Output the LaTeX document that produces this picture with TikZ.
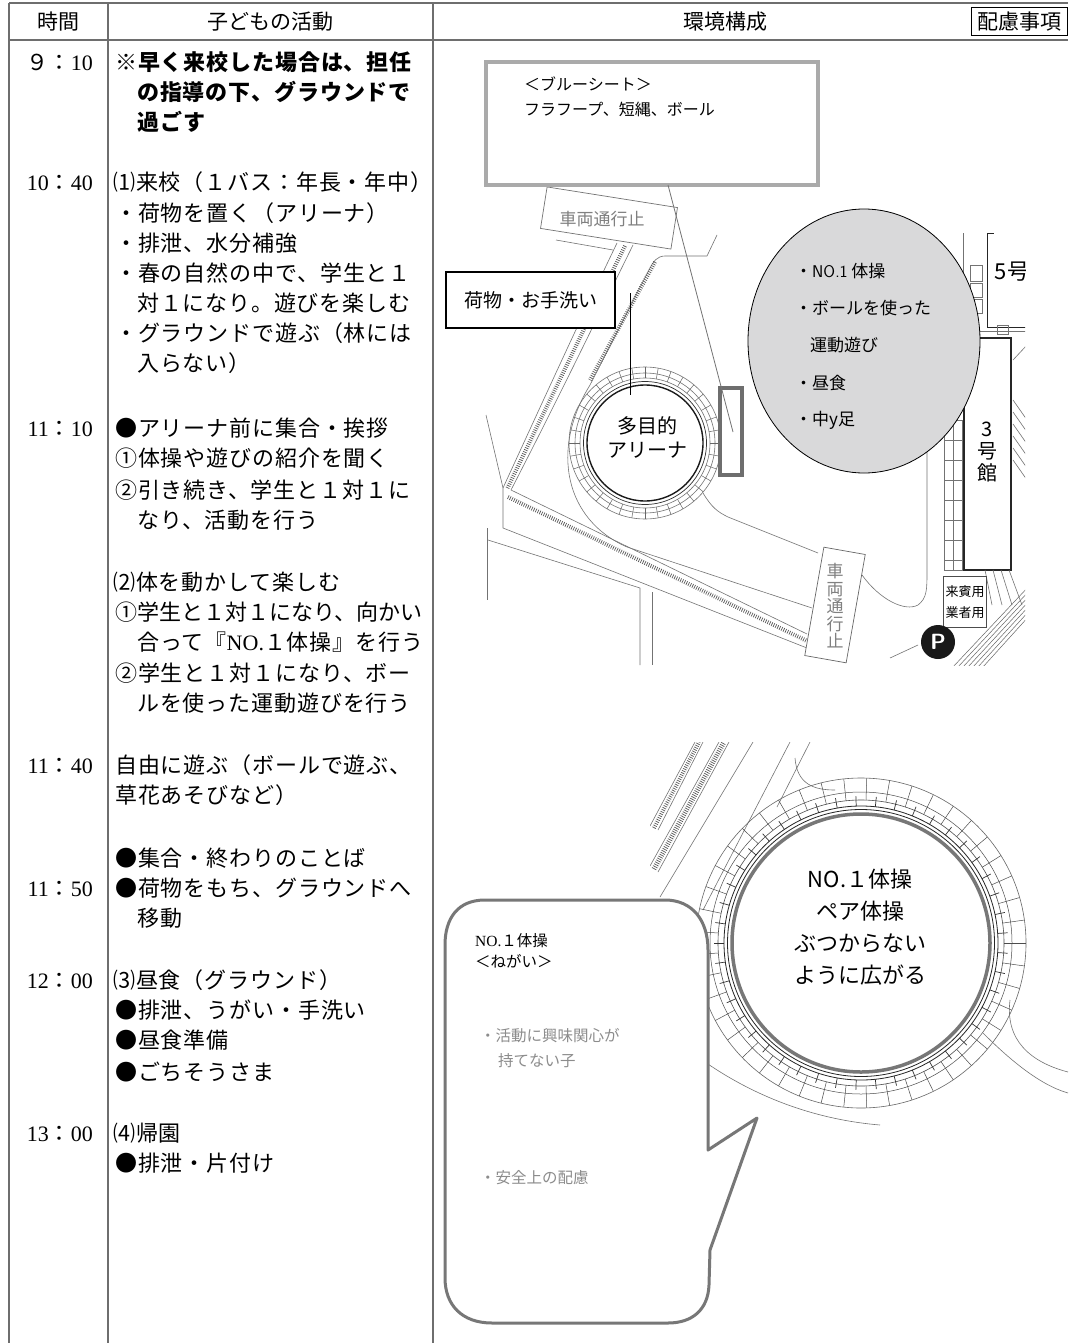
\documentclass[tikz,border=0pt]{standalone}
\usepackage{fontspec}
\setmainfont{Noto Sans CJK JP}
\newfontfamily\serifd{Liberation Serif}
\newfontfamily\jpwide[LetterSpace=4]{Noto Sans CJK JP}
\usetikzlibrary{shapes.geometric}
\definecolor{linegray}{HTML}{6E6E6E}
\definecolor{boxgray}{HTML}{AAAAAA}
\definecolor{callgray}{HTML}{777777}
\definecolor{ellgray}{HTML}{D9D9DA}
\tikzset{
 tab/.style={draw=linegray, line width=1.6pt},
 tx/.style={font=\jpwide\fontsize{22}{26}\selectfont, inner sep=0pt, anchor=base west, text=black},
 txn/.style={tx, font=\fontsize{22}{26}\selectfont},
 tm/.style={font=\fontsize{22}{26}\selectfont, inner sep=0pt, anchor=base east},
 hd/.style={font=\fontsize{21}{24}\selectfont, inner sep=0pt},
 mapl/.style={draw=black!55, line width=0.6pt},
 mapd/.style={draw=black!85, line width=0.9pt},
 hatch/.style={draw=black!65, line width=4pt, dash pattern=on 0.7pt off 1.5pt},
 mtext/.style={font=\fontsize{17}{20}\selectfont, inner sep=0pt, anchor=base west},
 ctext/.style={font=\fontsize{15.5}{18}\selectfont, inner sep=0pt, anchor=base west},
}
\newcommand\rowtext[4]{\node[tx] (#1) at (#2,#3) {#4};}
\newcommand\timetext[3]{\node[tm] (#1) at (93,#2) {#3};}
\newcommand\hm[2]{{\serifd #1}：{\serifd #2}}
\begin{document}
\begin{tikzpicture}[x=1pt,y=-1pt]
\useasboundingbox (0,0) rectangle (1070,1343);
\fill[white] (0,0) rectangle (1070,1343);
% ---------- table frame
\draw[tab] (9,3) -- (1068,3);
\draw[tab] (9,40) -- (1068,40);
\draw[tab] (9,3) -- (9,1343);
\draw[tab] (108,3) -- (108,1343);
\draw[tab] (433,3) -- (433,1343);
\node[hd] (hA) at (58,22) {時間};
\node[hd] (hB) at (270,22) {子どもの活動};
\node[hd] (hC) at (725,22) {環境構成};
\node[hd, draw=black, line width=1pt, minimum width=96pt, minimum height=28pt] (hD) at (1019,22) {配慮事項};
% ---------- activities
\timetext{t1}{71}{９：{\serifd 10}}
\rowtext{a1}{115}{71}{\bfseries ※早く来校した場合は、担任}
\rowtext{a2}{137}{101}{\bfseries の指導の下、グラウンドで}
\rowtext{a3}{137}{131}{\bfseries 過ごす}
\timetext{t2}{191}{\hm{10}{40}}
\rowtext{b1}{113}{191}{⑴来校（１バス：年長・年中）}
\rowtext{b2}{115}{221}{・荷物を置く（アリーナ）}
\rowtext{b3}{115}{251}{・排泄、水分補強}
\rowtext{b4}{115}{281}{・春の自然の中で、学生と１}
\rowtext{b5}{137}{311}{対１になり。遊びを楽しむ}
\rowtext{b6}{115}{341}{・グラウンドで遊ぶ（林には}
\rowtext{b7}{137}{371}{入らない）}
\timetext{t3}{436}{\hm{11}{10}}
\rowtext{c1}{115}{436}{●アリーナ前に集合・挨拶}
\rowtext{c2}{115}{466}{①体操や遊びの紹介を聞く}
\rowtext{c3}{115}{498}{②引き続き、学生と１対１に}
\rowtext{c4}{137}{528}{なり、活動を行う}
\rowtext{d1}{113}{590}{⑵体を動かして楽しむ}
\node[txn] (d2) at (115,620) {①学生と１対１になり、向かい};
\rowtext{d3}{137}{650}{合って『{\serifd NO.}１体操』を行う}
\rowtext{d4}{115}{681}{②学生と１対１になり、ボー}
\rowtext{d5}{137}{711}{ルを使った運動遊びを行う}
\timetext{t4}{773}{\hm{11}{40}}
\rowtext{e1}{115}{773}{自由に遊ぶ（ボールで遊ぶ、}
\rowtext{e2}{115}{803}{草花あそびなど）}
\rowtext{f1}{115}{866}{●集合・終わりのことば}
\timetext{t5}{896}{\hm{11}{50}}
\rowtext{f2}{115}{896}{●荷物をもち、グラウンドへ}
\rowtext{f3}{137}{926}{移動}
\timetext{t6}{988}{\hm{12}{00}}
\rowtext{g1}{113}{988}{⑶昼食（グラウンド）}
\rowtext{g2}{115}{1018}{●排泄、うがい・手洗い}
\rowtext{g3}{115}{1048}{●昼食準備}
\rowtext{g4}{115}{1080}{●ごちそうさま}
\timetext{t7}{1141}{\hm{13}{00}}
\rowtext{k1}{113}{1141}{⑷帰園}
\rowtext{k2}{115}{1171}{●排泄・片付け}
% ---------- upper map
\begin{scope}
\clip (436,186) rectangle (1025,665);
% left road
\draw[mapl] (617,243) .. controls (580,320) and (548,390) .. (503,488);
\draw[mapl] (633,245) .. controls (596,320) and (560,395) .. (511,490);
\draw[hatch] (625,246) .. controls (588,320) and (554,392) .. (507,489);
\draw[mapl] (486,415) -- (503,488) -- (503,528);
\draw[mapl] (487,528) -- (487,600);
% bottom road
\draw[mapl] (511,490) -- (807,634);
\draw[hatch] (508,497) -- (807,641);
\draw[mapl] (503,528) -- (807,648);
\draw[mapl] (488,540) -- (640,588) -- (640,665);
\draw[mapl] (652,592) -- (652,665);
\draw[mapl] (556,240) -- (613,250);
% inner loop around arena
\draw[mapl] (717,235) -- (707,256) -- (665,256) .. controls (657,256) and (653,262) .. (650,268) -- (590,385) .. controls (550,450) and (565,520) .. (627,547) -- (812,608);
\draw[hatch] (655,262) -- (590,380);
\draw[mapl] (703,493) .. controls (712,508) and (718,512) .. (728,517) -- (818,553);
% arena
\begin{scope}[shift={(645,443)}]
 \draw[mapl] (0,0) circle[radius=76];
 \draw[mapl] (0,0) circle[radius=70];
 \draw[mapl] (0,0) circle[radius=65];
 \foreach \a in {0,10,...,350} \draw[black!60, line width=0.5pt] (\a:65) -- (\a:76);
 \draw[black!80, line width=0.7pt] (0,0) circle[radius=61.5];
 \draw[black!90, line width=1.4pt] (0,0) circle[radius=58];
\end{scope}
% right side: road, buildings
\draw[mapl] (862,575) .. controls (880,600) and (905,612) .. (918,605) .. controls (927,598) and (927,590) .. (927,570) -- (927,440);
\draw[mapl] (963,233) -- (963,338);
\draw[mapd] (987,233) -- (987,327) -- (1030,327);
\draw[mapd] (987,233) -- (994,233);
\draw[mapl] (970,265) rectangle (982,281);
\draw[mapl] (970,283) rectangle (982,297);
\draw[mapl] (970,299) rectangle (982,313);
\draw[mapl] (963,331) -- (1030,331);
\draw[mapl] (997,325) rectangle (1008,334);
\node[font=\fontsize{22}{24}\selectfont, inner sep=0pt] (g5) at (1012,272) {5号};
\draw[mapl] (978,338) .. controls (978,362) and (1002,362) .. (1002,338);
\foreach \i in {0,...,5} \draw[mapl] (1013,400+12*\i) -- (1027,420+12*\i);
\draw[mapl] (1013,360) -- (1027,345);
\draw[mapl] (944,420) rectangle (962,570);
\draw[mapl] (953,420) -- (953,570);
\foreach \yy in {440,460,480,500,520,540,560} \draw[mapl] (944,\yy) -- (962,\yy);
\node[draw=black!85, line width=1.1pt, fill=white, minimum width=47pt, minimum height=232pt, inner sep=0pt] (b3) at (987.5,454) {};
\node[font=\fontsize{20}{22}\selectfont, align=center, inner sep=0pt] (b3t) at (987,452) {3\\号\\館};
\foreach \i in {0,...,3} \draw[mapl] (985+8*\i,570) -- (992+10*\i,605);
\foreach \i in {0,...,6} \draw[black!60, line width=0.5pt] (952+5*\i,668) -- (1030,585+5*\i);
\node[draw=black!70, line width=0.8pt, fill=white, minimum width=43pt, minimum height=51pt, inner sep=0pt, align=center, font=\fontsize{13}{21}\selectfont] (vip) at (965,602) {来賓用\\業者用};
\node[circle, fill=black!90, minimum size=34pt, inner sep=0pt, text=white, font=\sffamily\bfseries\fontsize{22}{22}\selectfont] (park) at (938,642) {P};
\draw[mapl] (890,658) -- (918,645);
% ellipse
\node[ellipse, draw=black, line width=0.8pt, fill=ellgray, minimum width=232pt, minimum height=264pt] (ell) at (864,341) {};
\node[mtext] (m1) at (795,277) {・{\sffamily NO.1} 体操};
\node[mtext] (m2) at (795,314) {・ボールを使った};
\node[mtext] (m3) at (810,351) {運動遊び};
\node[mtext] (m4) at (795,389) {・昼食};
\node[mtext] (m5) at (795,425) {・中y足};
% vertical no-entry sign
\node[draw=black!60, line width=0.7pt, fill=white, minimum width=42pt, minimum height=110pt, rotate=-10, inner sep=0pt] (rv2) at (835,605) {};
\node[text=black!50, align=center, inner sep=0pt, font=\fontsize{17}{17.5}\selectfont] (rv2t) at (835,606) {車\\両\\通\\行\\止};
\end{scope}
% top no-entry sign
\node[draw=black!55, line width=0.7pt, fill=white, minimum width=132pt, minimum height=42pt, rotate=-9, inner sep=0pt] (rv1) at (609,218) {};
\node[inner sep=0pt, text=black!50, font=\fontsize{17}{20}\selectfont] (rv1t) at (602,219) {車両通行止};
% luggage box
\node[draw=black, line width=1.4pt, fill=white, minimum width=169pt, minimum height=56pt, inner sep=0pt, font=\fontsize{19}{22}\selectfont] (lug) at (530.5,300) {荷物・お手洗い};
\coordinate (lp1) at (630,293);
\coordinate (lp2) at (630,395);
\draw[black, line width=0.8pt] (lp1) -- (lp2);
\node[draw=boxgray, line width=4pt, fill=white, minimum width=332pt, minimum height=123pt, inner sep=0pt] (bs) at (652,123.5) {};
\node[inner sep=0pt, anchor=base west, font=\fontsize{16}{20}\selectfont] (bst1) at (524,91) {＜ブルーシート＞};
\node[inner sep=0pt, anchor=base west, font=\fontsize{16}{20}\selectfont] (bst2) at (524,116) {フラフープ、短縄、ボール};
\node[draw=linegray, line width=4.5pt, minimum width=22pt, minimum height=87pt, inner sep=0pt] (gr) at (731,431.5) {};
\coordinate (bp1) at (668,185);
\coordinate (bp2) at (733,432);
\draw[black!55, line width=0.8pt] (bp1) -- (bp2);
\node[inner sep=0pt, align=center, font=\fontsize{20}{24}\selectfont] (arena) at (647,437) {多目的\\アリーナ};
% ---------- lower map
\begin{scope}
\clip (650,742) rectangle (1068,1130);
\draw[mapl] (650,826) -- (695,742);
\draw[mapl] (658,830) -- (703,742);
\draw[hatch] (654,828) -- (699,742);
\draw[mapl] (650,866) -- (719,742);
\draw[mapl] (658,872) -- (729,742);
\draw[hatch,line width=5pt] (654,869) -- (724,742);
\draw[mapl] (660,897) -- (753,742);
\draw[mapl] (703,910) -- (790,742);
\draw[mapl] (777,807) -- (810,742);
\draw[mapl] (795,758) .. controls (797,785) and (815,790) .. (835,790);
\draw[mapl] (705,1062) .. controls (760,1100) and (820,1120) .. (880,1125);
\draw[mapl] (983,1033) .. controls (1010,1060) and (1040,1085) .. (1068,1093);
\draw[mapl] (1010,1000) .. controls (1005,1040) and (1030,1062) .. (1068,1072);
\begin{scope}[shift={(861,943)}]
 \draw[black!60, line width=0.6pt] (0,0) circle[radius=165];
 \draw[black!70, line width=0.5pt] (0,0) circle[radius=151];
 \draw[black!70, line width=0.6pt] (0,0) circle[radius=143];
 \foreach \a in {0,8,...,352} \draw[black!70, line width=0.5pt] (\a:143) -- (\a:165);
 \foreach \a in {4,12,...,356} \draw[black!80, line width=0.7pt] (\a:137) -- (\a:147);
 \draw[black!85, line width=0.8pt] (0,0) circle[radius=137];
 \draw[black!85, line width=0.8pt] (0,0) circle[radius=133.5];
 \draw[callgray, line width=3.5pt] (0,0) circle[radius=129];
\end{scope}
\end{scope}
\node[inner sep=0pt, align=center, font=\fontsize{22}{32}\selectfont] (ringt) at (860,927) {NO.１体操\\ペア体操\\ぶつからない\\ように広がる};
% callout
\draw[callgray, line width=3pt, fill=white, line join=round] (445,945) .. controls (445,918) and (458,900) .. (485,900) -- (665,900) .. controls (692,900) and (708,920) .. (708,950) -- (708,1150) -- (757,1118) -- (710,1250) -- (709,1285) .. controls (708,1310) and (692,1323) .. (668,1323) -- (492,1323) .. controls (462,1323) and (445,1305) .. (445,1278) -- cycle;
\node[ctext] (n1) at (475,946) {{\serifd NO.}１体操};
\node[ctext] (n2) at (475,967) {＜ねがい＞};
\node[ctext, text=black!45] (n3) at (480,1041) {・活動に興味関心が};
\node[ctext, text=black!45] (n4) at (498,1066) {持てない子};
\node[ctext, text=black!45] (n5) at (480,1183) {・安全上の配慮};
\end{tikzpicture}
\end{document}
